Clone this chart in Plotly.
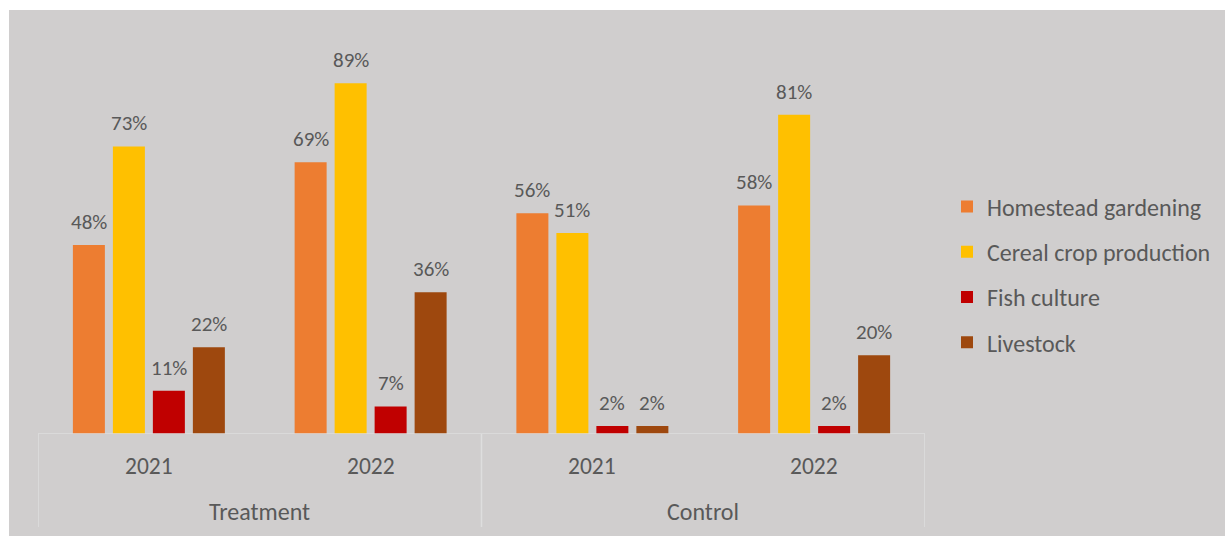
import plotly.graph_objects as go

# Share of households engaged in each activity, by arm and year
groups = ["Treatment", "Control"]
years = ["2021", "2022", "2021", "2022"]
homestead = [48, 69, 56, 58]
cereal = [73, 89, 51, 81]
fish = [11, 7, 2, 2]
livestock = [22, 36, 2, 20]

series = [
    ("Homestead gardening", homestead, "#ED7D31"),
    ("Cereal crop production", cereal, "#FFC000"),
    ("Fish culture", fish, "#C00000"),
    ("Livestock", livestock, "#9E480E"),
]

BG = "#D0CECE"
TXT = "#595959"
FONT = "Carlito, Calibri, Lato, sans-serif"
W, H = 1225, 536
ML, MR, MT, MB = 38, 300, 40, 102
PW, PH = W - ML - MR, H - MT - MB

xpos = list(range(len(years)))

fig = go.Figure()
for i, (name, vals, col) in enumerate(series):
    fig.add_trace(go.Bar(
        x=xpos, y=[v / 100 for v in vals], name=name,
        marker=dict(color=col, line=dict(width=0)),
        legendgroup=name,
    ))

annotations = []
# value labels above each bar
offsets = [-60, -20, 20, 60]
for (name, vals, col), dx in zip(series, offsets):
    for xi, v in zip(xpos, vals):
        annotations.append(dict(
            x=xi, y=v / 100, xref="x", yref="y", text=f"{v}%",
            showarrow=False, xshift=dx, yshift=23, yanchor="middle",
            font=dict(family=FONT, size=21, color=TXT),
        ))

# year labels
for xi, yr in zip(xpos, years):
    annotations.append(dict(
        x=xi, y=-32 / PH, xref="x", yref="paper", text=yr, showarrow=False,
        yanchor="middle", font=dict(family=FONT, size=23.5, color=TXT),
    ))
# arm labels
for gi, g in enumerate(groups):
    annotations.append(dict(
        x=gi * 2 + 0.5, y=-77 / PH, xref="x", yref="paper", text=g,
        showarrow=False, yanchor="middle",
        font=dict(family=FONT, size=24, color=TXT),
    ))

LINE = "#DEDEDE"
shapes = [
    # white strips on the top and left edges
    dict(type="rect", xref="paper", yref="paper",
         x0=-ML / PW, x1=(9 - ML) / PW, y0=-MB / PH, y1=1 + MT / PH,
         fillcolor="white", line=dict(width=0), layer="below"),
    dict(type="rect", xref="paper", yref="paper",
         x0=-ML / PW, x1=1 + MR / PW, y0=1 + (MT - 10) / PH, y1=1 + MT / PH,
         fillcolor="white", line=dict(width=0), layer="below"),
    # category axis line
    dict(type="line", xref="x", yref="y", x0=-0.5, x1=3.5, y0=0, y1=0,
         line=dict(color=LINE, width=1.5)),
]
for xb in [-0.5, 1.5, 3.5]:
    shapes.append(dict(type="line", xref="x", yref="paper", x0=xb, x1=xb,
                       y0=0, y1=-93 / PH, line=dict(color=LINE, width=1.5)))

fig.update_layout(
    width=W, height=H,
    margin=dict(l=ML, r=MR, t=MT, b=MB, autoexpand=False),
    paper_bgcolor=BG, plot_bgcolor=BG,
    barmode="group", bargap=0.2785, bargroupgap=0.2,
    xaxis=dict(range=[-0.5, 3.5], showticklabels=False, showgrid=False,
               zeroline=False, showline=False, fixedrange=True),
    yaxis=dict(range=[0, 1.0], visible=False, fixedrange=True),
    legend=dict(x=(947 - ML) / PW, xanchor="left", y=0.405, yanchor="middle",
                font=dict(family=FONT, size=24, color=TXT),
                tracegroupgap=11, bgcolor="rgba(0,0,0,0)"),
    annotations=annotations, shapes=shapes,
    showlegend=True,
)

fig.write_html("out.html")
